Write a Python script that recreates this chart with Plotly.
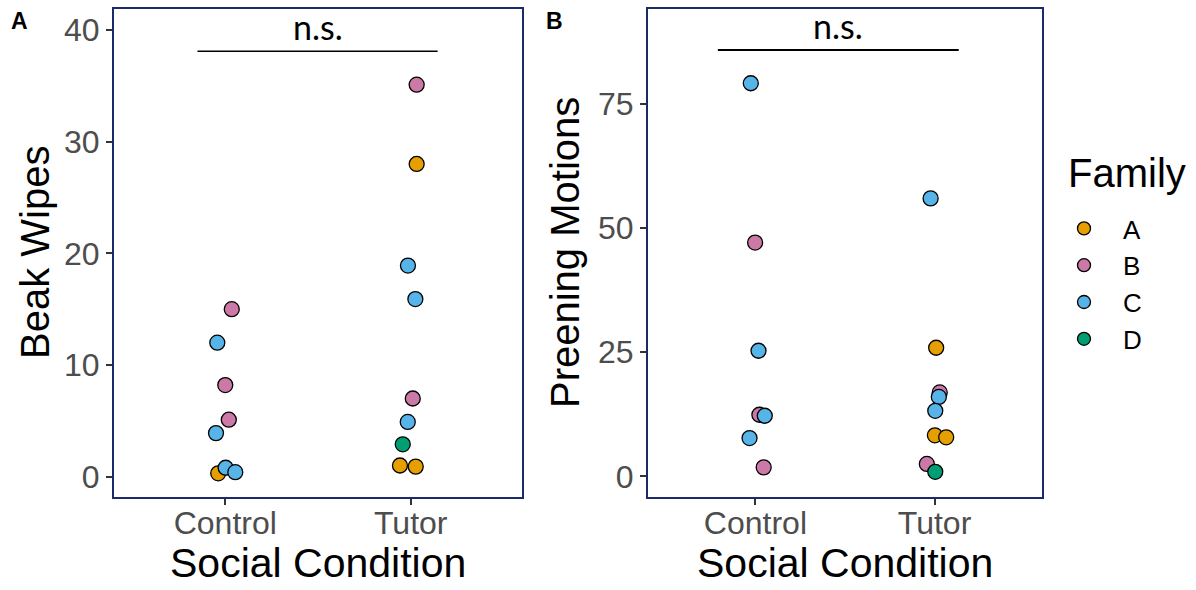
import plotly.graph_objects as go

# ---------------- data ----------------
categories = ["Control", "Tutor"]
families = ["A", "B", "C", "D"]
family_colors = {"A": "#E69F00", "B": "#CC79A7", "C": "#56B4E9", "D": "#009E73"}

# Panel A: Beak wipes
beak_condition = ["Control"] * 8 + ["Tutor"] * 9
beak_family = ["B", "C", "B", "B", "C", "A", "C", "C",
               "B", "A", "C", "C", "B", "C", "D", "A", "A"]
beak_values = [15.0, 12.0, 8.2, 5.1, 3.9, 0.3, 0.8, 0.4,
               35.1, 28.0, 18.9, 15.9, 7.0, 4.9, 2.9, 1.0, 0.9]
beak_jitter = [0.035, -0.043, 0.0, 0.019, -0.05, -0.038, 0.002, 0.054,
               0.032, 0.032, -0.015, 0.025, 0.011, -0.016, -0.043, -0.058, 0.027]

# Panel B: Preening motions
preen_condition = ["Control"] * 7 + ["Tutor"] * 9
preen_family = ["C", "B", "C", "B", "C", "C", "B",
                "C", "A", "B", "C", "C", "A", "A", "B", "D"]
preen_values = [79.2, 47.1, 25.3, 12.4, 12.2, 7.7, 1.8,
                56.0, 25.9, 16.9, 16.0, 13.2, 8.25, 7.85, 2.5, 0.9]
preen_jitter = [-0.026, -0.002, 0.017, 0.022, 0.052, -0.033, 0.046,
                -0.022, 0.009, 0.029, 0.024, 0.004, 0.002, 0.065, -0.043, 0.004]

# significance brackets
beak_bracket_x = [0.85, 2.145]
beak_bracket_y = [38.1, 38.1]
preen_bracket_x = [0.79, 2.135]
preen_bracket_y = [85.9, 85.9]
sig_label = "n.s."

# ---------------- styles ----------------
W, H = 1196, 590
FONT = "Liberation Sans, Arial, sans-serif"
NAVY = "#1B2A6B"
TICKGRAY = "#4D4D4D"

cat_pos = {c: i + 1 for i, c in enumerate(categories)}

fig = go.Figure()


def add_panel(cond, fam, vals, jit, xa, ya):
    for f in families:
        xs, ys = [], []
        for c, fm, v, j in zip(cond, fam, vals, jit):
            if fm == f:
                xs.append(cat_pos[c] + j)
                ys.append(v)
        fig.add_trace(go.Scatter(
            x=xs, y=ys, mode="markers", xaxis=xa, yaxis=ya,
            marker=dict(size=15, color=family_colors[f],
                        line=dict(color="black", width=1.3)),
            showlegend=False, name=f, hoverinfo="x+y+name"))


add_panel(beak_condition, beak_family, beak_values, beak_jitter, "x", "y")
add_panel(preen_condition, preen_family, preen_values, preen_jitter, "x2", "y2")

# brackets
fig.add_trace(go.Scatter(x=beak_bracket_x, y=beak_bracket_y, mode="lines",
                         line=dict(color="black", width=1.6),
                         xaxis="x", yaxis="y", showlegend=False, hoverinfo="skip"))
fig.add_trace(go.Scatter(x=preen_bracket_x, y=preen_bracket_y, mode="lines",
                         line=dict(color="black", width=2.2),
                         xaxis="x2", yaxis="y2", showlegend=False, hoverinfo="skip"))

# legend entries
for f in families:
    fig.add_trace(go.Scatter(
        x=[None], y=[None], mode="markers", name=f,
        marker=dict(size=13, color=family_colors[f],
                    line=dict(color="black", width=1.3)),
        showlegend=True))

x1_dom = [114 / W, 522 / W]
x2_dom = [648 / W, 1042 / W]
y_dom = [1 - 497 / H, 1 - 9.3 / H]

xcommon = dict(range=[0.4, 2.6], tickvals=[1, 2], ticktext=categories,
               showgrid=False, zeroline=False, showline=True, mirror=True,
               linecolor=NAVY, linewidth=2, ticks="outside", ticklen=6,
               tickwidth=1.5, tickcolor="#333333", ticklabelstandoff=-9,
               tickfont=dict(family=FONT, size=32, color=TICKGRAY))
ycommon = dict(showgrid=False, zeroline=False, showline=True, mirror=True,
               linecolor=NAVY, linewidth=2, ticks="outside", ticklen=6,
               tickwidth=1.5, tickcolor="#333333",
               tickfont=dict(family=FONT, size=32, color=TICKGRAY))

fig.update_layout(
    width=W, height=H,
    margin=dict(l=0, r=0, t=0, b=0, autoexpand=False),
    paper_bgcolor="white", plot_bgcolor="white",
    xaxis=dict(domain=x1_dom, anchor="y", **xcommon),
    yaxis=dict(domain=y_dom, anchor="x", range=[-1.82, 41.85],
               tickvals=[0, 10, 20, 30, 40], **ycommon),
    xaxis2=dict(domain=x2_dom, anchor="y2", **xcommon),
    yaxis2=dict(domain=y_dom, anchor="x2", range=[-4.17, 94.1],
                tickvals=[0, 25, 50, 75], **ycommon),
    legend=dict(x=1045 / W, y=1 - 205 / H, xanchor="left", yanchor="top",
                font=dict(family=FONT, size=26, color="black"),
                itemwidth=68, bgcolor="rgba(0,0,0,0)", tracegroupgap=0),
    showlegend=True,
)

annotations = [
    dict(text="Beak Wipes", x=35 / W, y=1 - 253 / H, xref="paper", yref="paper",
         textangle=-90, showarrow=False, xanchor="center", yanchor="middle",
         font=dict(family=FONT, size=40, color="black")),
    dict(text="Preening Motions", x=565 / W, y=1 - 253 / H, xref="paper", yref="paper",
         textangle=-90, showarrow=False, xanchor="center", yanchor="middle",
         font=dict(family=FONT, size=40, color="black")),
    dict(text="Social Condition", x=318 / W, y=1 - 563 / H, xref="paper", yref="paper",
         showarrow=False, xanchor="center", yanchor="middle",
         font=dict(family=FONT, size=41, color="black")),
    dict(text="Social Condition", x=845 / W, y=1 - 563 / H, xref="paper", yref="paper",
         showarrow=False, xanchor="center", yanchor="middle",
         font=dict(family=FONT, size=41, color="black")),
    dict(text="Family", x=1066 / W, y=1 - 173 / H, xref="paper", yref="paper",
         showarrow=False, xanchor="left", yanchor="middle",
         font=dict(family=FONT, size=40, color="black")),
    dict(text="<b>A</b>", x=9 / W, y=1 - 21 / H, xref="paper", yref="paper",
         showarrow=False, xanchor="left", yanchor="middle",
         font=dict(family=FONT, size=23, color="black")),
    dict(text="<b>B</b>", x=544 / W, y=1 - 21 / H, xref="paper", yref="paper",
         showarrow=False, xanchor="left", yanchor="middle",
         font=dict(family=FONT, size=23, color="black")),
    dict(text=sig_label, x=sum(beak_bracket_x) / 2, y=beak_bracket_y[0], xref="x", yref="y",
         showarrow=False, xanchor="center", yanchor="bottom", yshift=2,
         font=dict(family="Lato, Open Sans, sans-serif", size=34, color="black")),
    dict(text=sig_label, x=sum(preen_bracket_x) / 2, y=preen_bracket_y[0], xref="x2", yref="y2",
         showarrow=False, xanchor="center", yanchor="bottom", yshift=2,
         font=dict(family="Lato, Open Sans, sans-serif", size=34, color="black")),
]
fig.update_layout(annotations=annotations)

fig.write_html("out.html", config={"displayModeBar": False},
               post_script="document.body.style.margin='0';document.body.style.overflow='hidden';")
